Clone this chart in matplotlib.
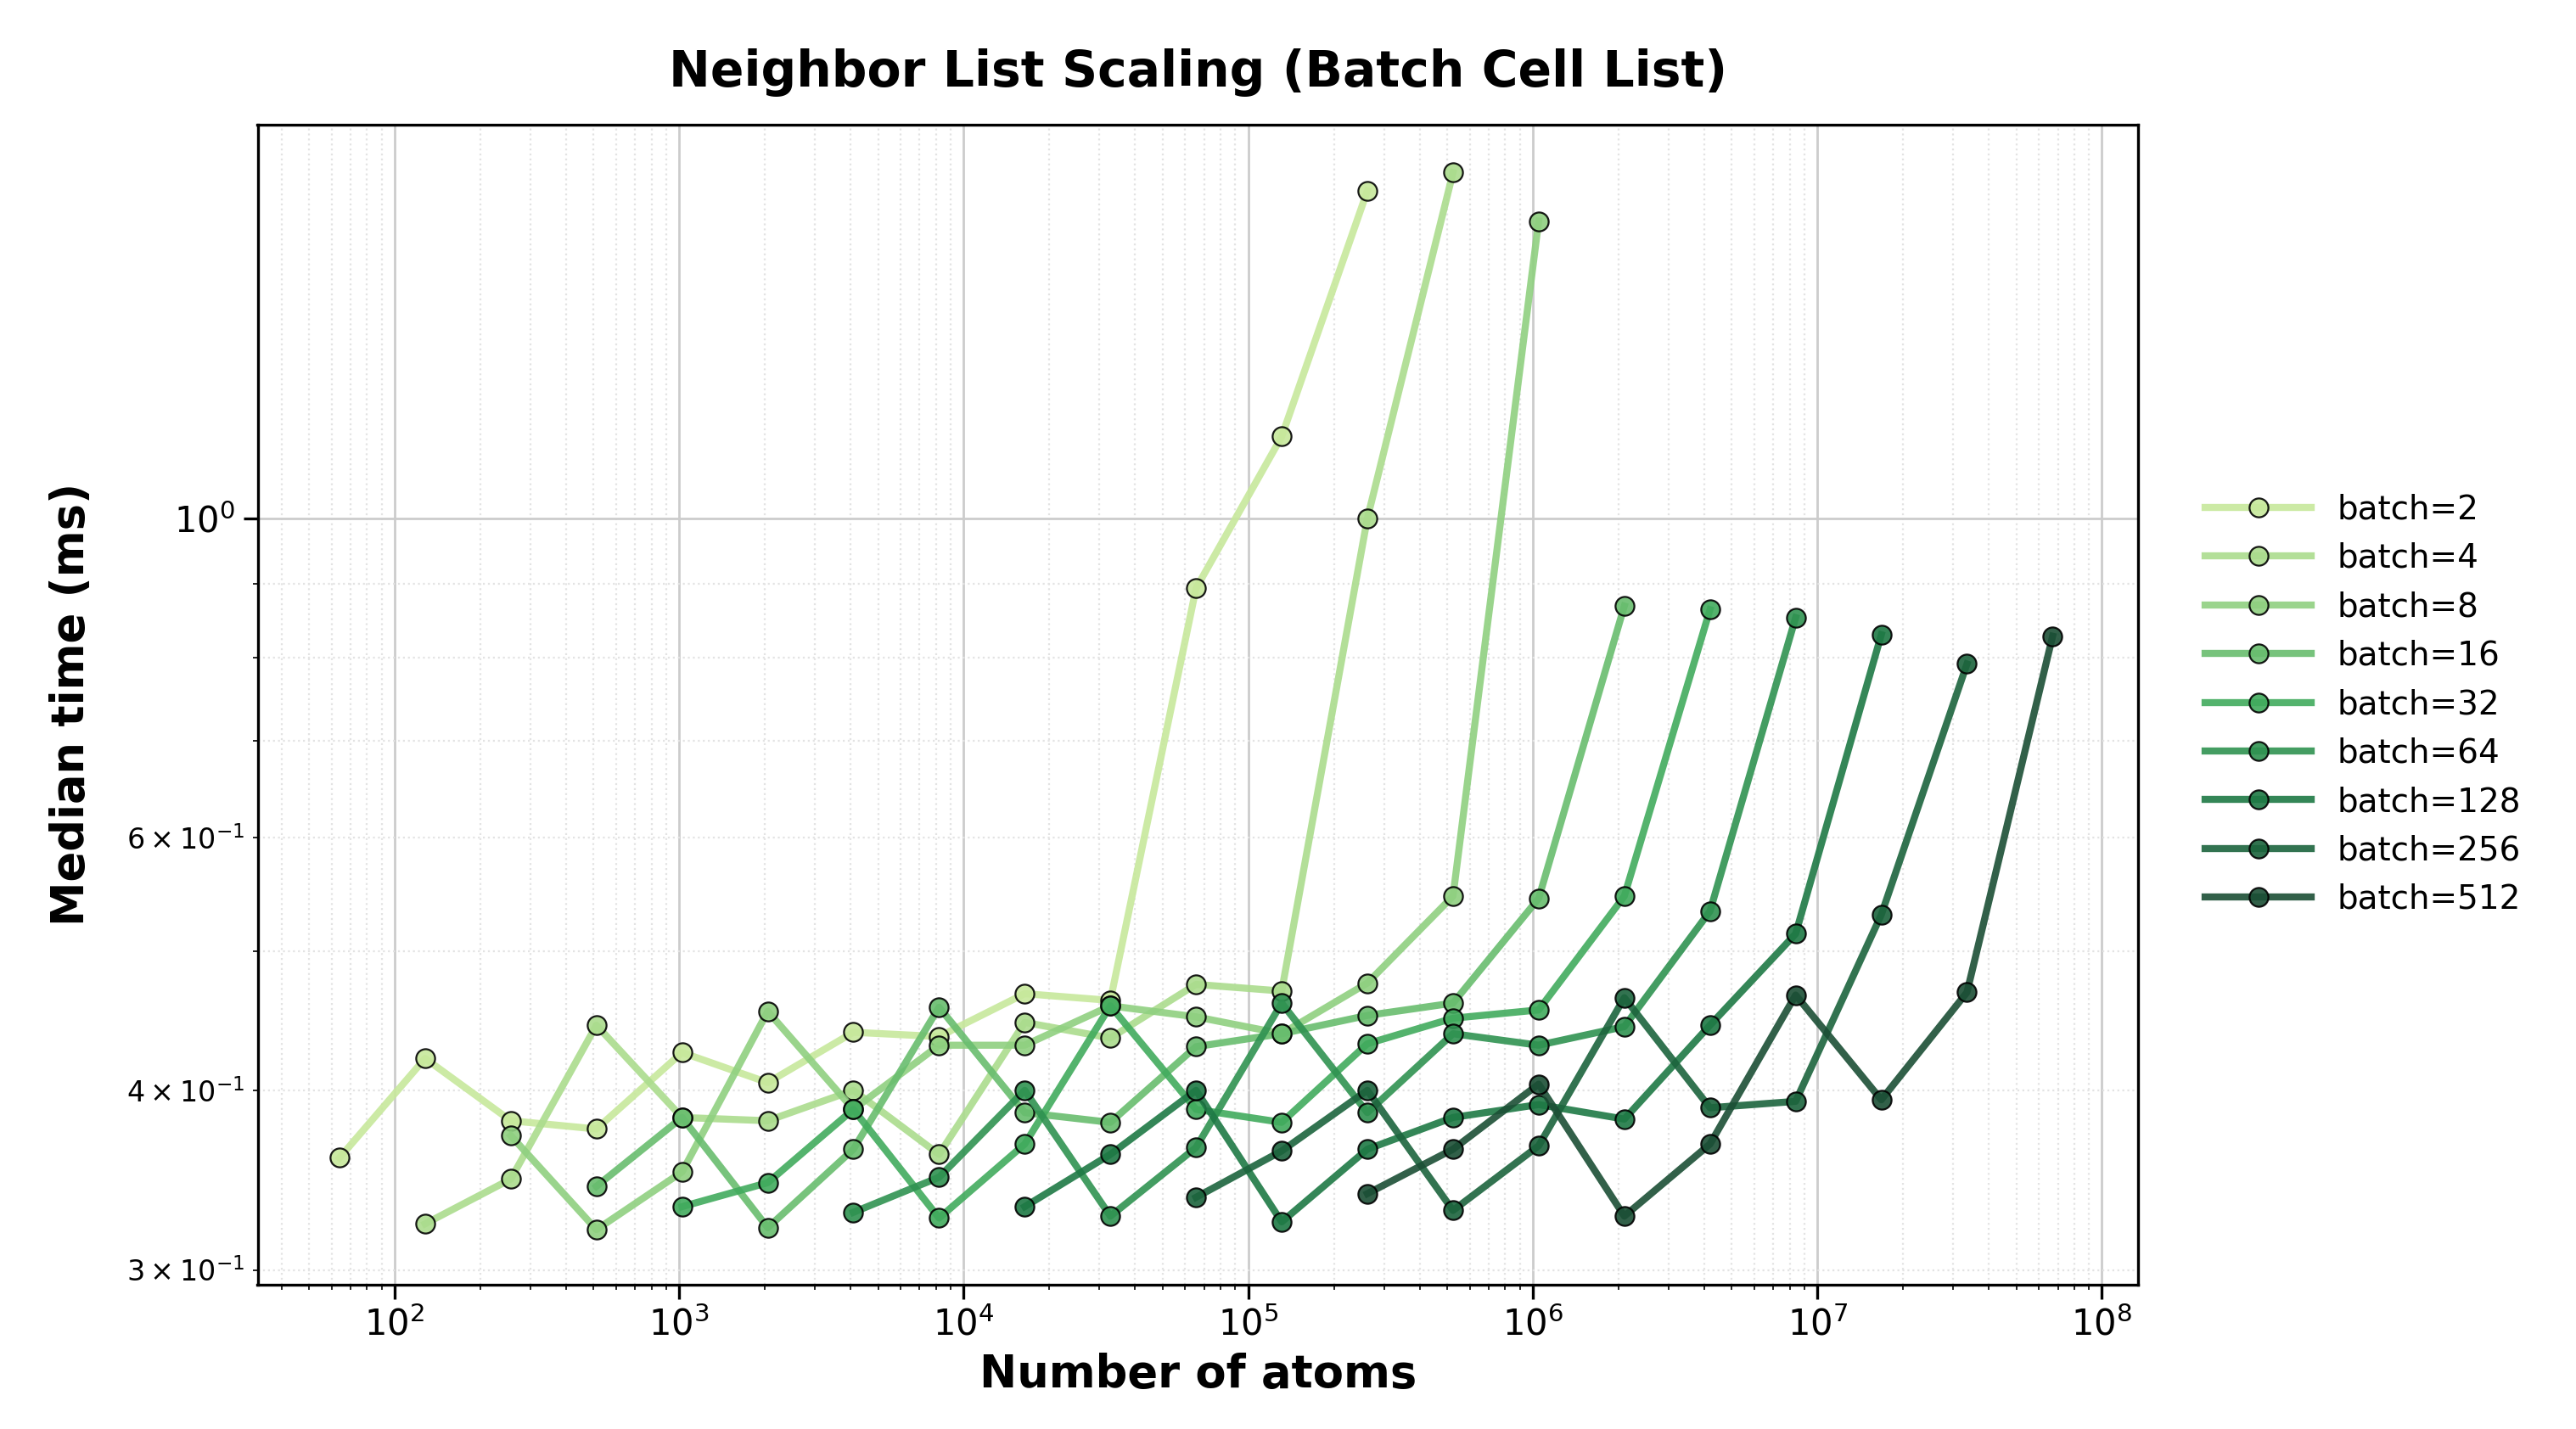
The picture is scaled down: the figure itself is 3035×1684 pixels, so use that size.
import matplotlib.pyplot as plt
import numpy as np
from matplotlib.colors import LinearSegmentedColormap

batches = [2, 4, 8, 16, 32, 64, 128, 256, 512]
# first atom count per batch (powers of two), all end at batch * 131072
start_atoms = [64, 128, 256, 512, 1024, 4096, 16384, 65536, 262144]

times = {
    2:   [.359, .421, .381, .376, .425, .405, .439, .436, .467, .462, .894, 1.14, 1.69],
    4:   [.323, .347, .444, .383, .381, .400, .361, .446, .435, .474, .469, 1.0, 1.74],
    8:   [.372, .320, .351, .454, .388, .430, .430, .458, .450, .438, .475, .546, 1.61],
    16:  [.343, .383, .321, .364, .457, .386, .380, .429, .438, .451, .460, .544, .869],
    32:  [.332, .345, .388, .326, .367, .458, .388, .380, .431, .449, .455, .546, .864],
    64:  [.329, .348, .400, .327, .365, .460, .386, .438, .430, .443, .533, .853],
    128: [.332, .361, .400, .324, .364, .383, .391, .382, .444, .514, .830],
    256: [.337, .363, .400, .330, .366, .464, .389, .393, .530, .792],
    512: [.339, .364, .404, .327, .367, .466, .394, .468, .828],
}

fig = plt.figure(figsize=(15.175, 8.42), dpi=200)
ax = fig.add_axes([0.1, 0.101, 0.73, 0.812])

cmap = LinearSegmentedColormap.from_list('g', ['#c7e89b', '#8fd080', '#41ab5d', '#1e7a45', '#1b4f35'])
colors = cmap(np.linspace(0, 1, len(batches)))
for b, s, c in zip(batches, start_atoms, colors):
    y = times[b]
    x = [s * 2 ** i for i in range(len(y))]
    ax.plot(x, y, '-o', color=c, lw=3, ms=8, mec='black', mew=0.8,
            alpha=0.9, label=f'batch={b}')

ax.set_xscale('log')
ax.set_yscale('log')
ax.set_xlim(33, 1.34e8)
ax.set_ylim(0.293, 1.88)
ax.grid(True, which='major', color='#cccccc', lw=1)
ax.grid(True, which='minor', color='#e3e3e3', ls=':', lw=0.8)
ax.tick_params(axis='both', which='major', labelsize=15, width=1.2, length=6)
ax.tick_params(axis='y', which='minor', labelsize=12)
for sp in ax.spines.values():
    sp.set_linewidth(1.2)
ax.set_xlabel('Number of atoms', fontsize=19, fontweight='bold')
ax.set_ylabel('Median time (ms)', fontsize=19, fontweight='bold', labelpad=14)
ax.set_title('Neighbor List Scaling (Batch Cell List)', fontsize=21,
             fontweight='bold', pad=16)
ax.legend(loc='center left', bbox_to_anchor=(1.02, 0.5), frameon=False,
          fontsize=14, handlelength=3.2)

fig.savefig('out.png', dpi=200)
